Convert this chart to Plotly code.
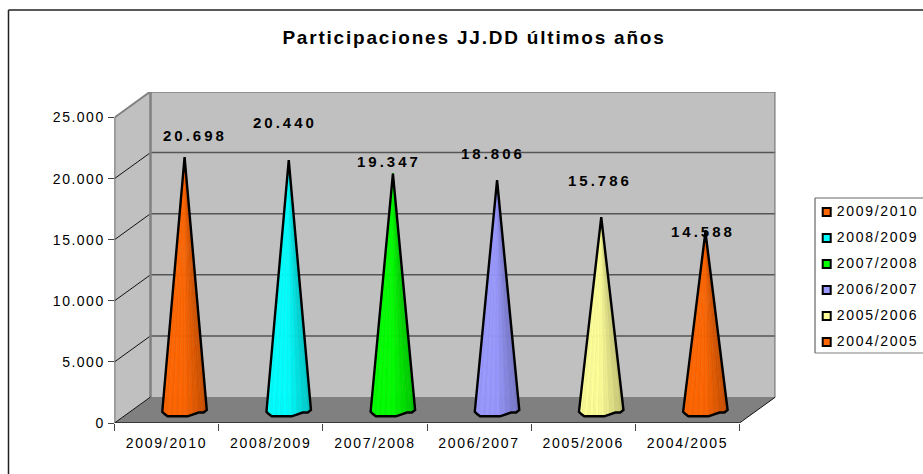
import numpy as np
import plotly.graph_objects as go

categories = ["2009/2010", "2008/2009", "2007/2008", "2006/2007", "2005/2006", "2004/2005"]
values = [20698, 20440, 19347, 18806, 15786, 14588]
value_labels = ["20.698", "20.440", "19.347", "18.806", "15.786", "14.588"]
colors = [(255, 102, 0), (0, 255, 255), (0, 255, 0), (153, 153, 255), (255, 255, 153), (255, 102, 0)]
y_ticks = [0, 5000, 10000, 15000, 20000, 25000]
y_tick_labels = ["0", "5.000", "10.000", "15.000", "20.000", "25.000"]
title_text = "Participaciones JJ.DD últimos años"

# label nudges in pixels (the source chart places them by hand)
label_shift_x = [10, -4, -4, -4, -1, -2]
label_shift_y = [22, 38, 12, 27, 37, 0]

W, H = 923, 474
L, R, T, B = 114.5, 775.5, 92, 423
front_w = 625.0
front_h = 305.5
depth_px_x, depth_px_y = 36, 26
px_x = 6 / front_w          # category units per pixel
px_y = 25000 / front_h      # value units per pixel
dx = depth_px_x * px_x
dy = depth_px_y * px_y
x_max = (R - L) * px_x
y_max = (B - T) * px_y

# cone foot outline in pixels relative to the axis of the cone
foot_x = np.array([-22.3, -20, -17, 3, 9, 14, 19, 22.2])
foot_y = np.array([1.7, 4, 6.3, 6.3, 4.5, 2.5, 2.5, 0])
N_STRIPS = 16


def shade(rgb, t, k):
    f = 1.0 if t < 0.5 else 1.0 - (t - 0.5) * 0.42
    f *= 0.97 if k % 2 else 1.0
    return "rgb(%d,%d,%d)" % tuple(int(c * f) for c in rgb)


fig = go.Figure()

for i, (cat, val, rgb) in enumerate(zip(categories, values, colors)):
    cx = i + 0.5 + dx / 2
    y_tip = val + dy / 2
    y_base = dy / 2
    edges = np.linspace(foot_x[0], foot_x[-1], N_STRIPS + 1)
    for k in range(N_STRIPS):
        sub = np.linspace(edges[k], edges[k + 1], 4)
        low = np.interp(sub, foot_x, foot_y)
        xs = [cx] + list(cx + sub * px_x) + [cx]
        ys = [y_tip] + list(y_base - low * px_y) + [y_tip]
        col = shade(rgb, k / (N_STRIPS - 1), k)
        fig.add_trace(go.Scatter(
            x=xs, y=ys, mode="lines", fill="toself",
            fillcolor=col,
            line=dict(width=0.5, color=col), hoverinfo="skip", showlegend=False,
        ))
    fig.add_trace(go.Scatter(
        x=[cx] + list(cx + foot_x * px_x) + [cx],
        y=[y_tip] + list(y_base - foot_y * px_y) + [y_tip],
        mode="lines", name=cat,
        line=dict(color="black", width=2.4), showlegend=False,
    ))
    fig.add_annotation(
        x=cx, y=y_tip, text=value_labels[i], showarrow=False,
        xshift=label_shift_x[i], yshift=label_shift_y[i],
        font=dict(family="Liberation Sans", size=15, color="black", weight="bold"),
    )

# legend rows
rgb_css = ["rgb(%d,%d,%d)" % c for c in colors]
rows = list(range(len(categories)))
fig.add_trace(go.Scatter(
    x=[0] * 6, y=rows, mode="markers", xaxis="x2", yaxis="y2",
    marker=dict(symbol="square", size=8, color=rgb_css, line=dict(color="black", width=2)),
    showlegend=False, hoverinfo="skip",
))
fig.add_trace(go.Scatter(
    x=[10] * 6, y=rows, mode="text", xaxis="x2", yaxis="y2", text=categories,
    textposition="middle right",
    textfont=dict(family="Liberation Sans", size=14, color="black"),
    showlegend=False, hoverinfo="skip",
))


def poly(pts, fill):
    path = "M " + " L ".join("%.4f,%.2f" % p for p in pts) + " Z"
    return dict(type="path", xref="x", yref="y", path=path, fillcolor=fill, line=dict(width=0), layer="below")


def seg(x0, y0, x1, y1, color, width):
    return dict(type="line", xref="x", yref="y", x0=x0, y0=y0, x1=x1, y1=y1,
                line=dict(color=color, width=width), layer="below")


top_v = y_ticks[-1]
shapes = [
    poly([(dx, dy), (dx + 6, dy), (dx + 6, top_v + dy), (dx, top_v + dy)], "#c0c0c0"),
    poly([(0, 0), (dx, dy), (dx, top_v + dy), (0, top_v)], "#c0c0c0"),
    poly([(0, 0), (dx, dy), (dx + 6, dy), (6, 0)], "#808080"),
]
for v in y_ticks[1:-1]:
    shapes.append(seg(dx, v + dy, dx + 6, v + dy, "#555555", 1.5))
    shapes.append(seg(0, v, dx, v + dy, "#111111", 1))
shapes += [
    seg(dx, dy, dx, top_v + dy, "#808080", 2.5),
    seg(dx + 6, dy, dx + 6, top_v + dy, "#808080", 2.5),
    seg(dx, top_v + dy, dx + 6, top_v + dy, "#808080", 2.5),
    seg(0, top_v, dx, top_v + dy, "#808080", 2),
    seg(6, 0, dx + 6, dy, "#111111", 1),
    seg(0, 0, dx, dy, "#111111", 1),
    seg(0, 0, 6, 0, "#222222", 1.5),
    seg(0, 0, 0, top_v, "#444444", 1.5),
]
# outer frame and legend box, open at the window edge as in the source
frame = dict(color="#222222", width=1.5)
for x0, y0, x1, y1, ln in [
    (8.5, 10, 930, 10, frame), (8.5, 10, 8.5, 480, frame),
    (815, 198, 930, 198, dict(color="#666666", width=1.2)),
    (815, 198, 815, 353, dict(color="#666666", width=1.2)),
    (815, 353, 930, 353, dict(color="#808080", width=1.2)),
]:
    shapes.append(dict(type="line", xref="paper", yref="paper",
                       x0=x0 / W, x1=x1 / W, y0=1 - y0 / H, y1=1 - y1 / H, line=ln, layer="below"))

fig.update_layout(
    width=W, height=H,
    margin=dict(l=0, r=0, t=0, b=0, autoexpand=False),
    paper_bgcolor="white", plot_bgcolor="rgba(0,0,0,0)",
    showlegend=False,
    title=dict(text=title_text, x=474 / W, y=1 - 37 / H, xanchor="center", yanchor="middle",
               font=dict(family="Liberation Sans", size=19, color="black", weight="bold")),
    xaxis=dict(domain=[L / W, R / W], range=[0, x_max], showgrid=False, zeroline=False, showline=False,
               automargin=False,
               tickmode="array", tickvals=[i + 0.5 for i in range(6)], ticktext=categories,
               ticks="", ticklabelstandoff=10,
               tickfont=dict(family="Liberation Sans", size=14, color="black"),
               minor=dict(tickmode="array", tickvals=list(range(7)), ticks="outside", ticklen=7,
                          tickcolor="#444444", tickwidth=1.2)),
    yaxis=dict(domain=[1 - B / H, 1 - T / H], range=[0, y_max], showgrid=False, zeroline=False, showline=False,
               automargin=False,
               tickmode="array", tickvals=y_ticks, ticktext=y_tick_labels,
               ticks="outside", ticklen=6, tickcolor="#444444", tickwidth=1.2,
               tickfont=dict(family="Liberation Sans", size=14, color="black")),
    xaxis2=dict(domain=[815 / W, 1], range=[-11.7, 96.3], visible=False, anchor="y2"),
    yaxis2=dict(domain=[1 - 353 / H, 1 - 198 / H], range=[5.42, -0.54], visible=False, anchor="x2"),
    shapes=shapes,
)

post = """
document.body.style.margin = '0';
document.documentElement.style.overflow = 'hidden';
var sp = [['.gtitle', 1.8], ['.annotation-text', 3.0], ['.xtick text', 1.7], ['.ytick text', 1.5], ['.textpoint text', 1.7]];
sp.forEach(function (s) {
  document.querySelectorAll(s[0]).forEach(function (e) { e.style.letterSpacing = s[1] + 'px'; });
});
"""
fig.write_html("out.html", post_script=post, config=dict(displayModeBar=False))
